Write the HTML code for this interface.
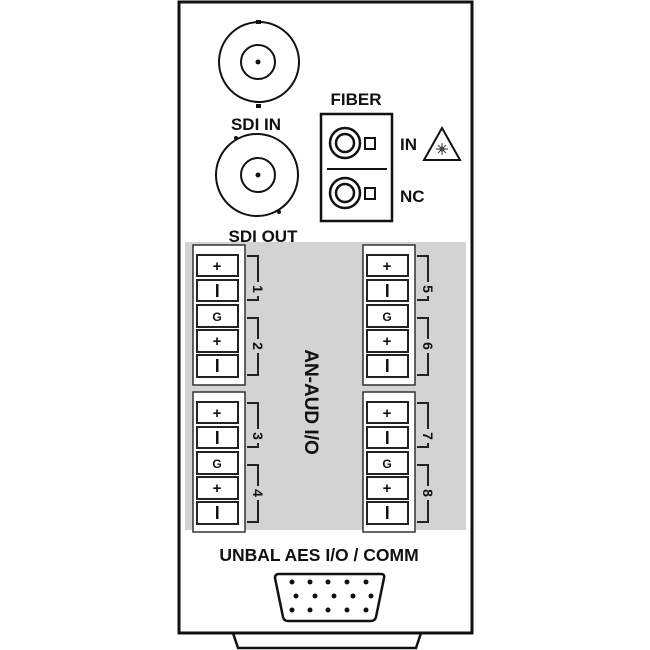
<!DOCTYPE html>
<html><head><style>body{margin:0;background:#fff}svg{display:block}</style></head><body>
<svg width="650" height="650" viewBox="0 0 650 650" font-family="Liberation Sans, sans-serif" font-weight="bold">
<rect width="650" height="650" fill="#fff"/>
<path d="M233 633 L238 648 L416 648 L421 633" fill="#fff" stroke="#111" stroke-width="2.5"/>
<rect x="179" y="2" width="293" height="631" fill="#fff" stroke="#111" stroke-width="3"/>
<rect x="185" y="242" width="281" height="288" fill="#d3d3d3"/>
<g fill="none" stroke="#111" stroke-width="2">
<circle cx="259" cy="62" r="40"/><circle cx="258" cy="62" r="17"/>
<circle cx="257" cy="175" r="41"/><circle cx="258" cy="175" r="17"/>
<rect x="321" y="114" width="71" height="107" stroke-width="2.5"/>
<line x1="327" y1="169" x2="387" y2="169"/>
<circle cx="345" cy="143" r="15" stroke-width="2.5"/><circle cx="345" cy="143" r="9" stroke-width="2.5"/>
<circle cx="345" cy="193" r="15" stroke-width="2.5"/><circle cx="345" cy="193" r="9" stroke-width="2.5"/>
<rect x="365" y="138" width="10" height="11"/><rect x="365" y="188" width="10" height="11"/>
<path d="M424 160 L442 128 L460 160 Z"/>
<path d="M436 149 H448 M442 143 V155 M438 145 L446 153 M446 145 L438 153" stroke="#555" stroke-width="1.2"/>
</g>
<g fill="#111"><circle cx="258" cy="62" r="2.5"/><circle cx="258" cy="175" r="2.5"/>
<rect x="256" y="20" width="5" height="4"/><rect x="256" y="104" width="5" height="4"/>
<circle cx="236" cy="138" r="2"/><circle cx="279" cy="212" r="2"/>
<circle cx="442" cy="149" r="2.5" fill="#444"/></g>
<g fill="#111" font-size="17">
<text x="256" y="130" text-anchor="middle">SDI IN</text>
<text x="263" y="242" text-anchor="middle">SDI OUT</text>
<text x="356" y="105" text-anchor="middle">FIBER</text>
<text x="400" y="150">IN</text>
<text x="400" y="202">NC</text>
<text x="319" y="561" text-anchor="middle" font-size="17.5">UNBAL AES I/O / COMM</text>
<text transform="translate(305,402) rotate(90)" text-anchor="middle" font-size="19">AN-AUD I/O</text>
</g>
<g id="blk">
<rect x="193" y="245" width="52" height="140" fill="#fff" stroke="#333" stroke-width="1.5"/>
<g fill="#fff" stroke="#222" stroke-width="2">
<rect x="197" y="255" width="41" height="21"/><rect x="197" y="280" width="41" height="21"/>
<rect x="197" y="305" width="41" height="22"/><rect x="197" y="330" width="41" height="22"/>
<rect x="197" y="355" width="41" height="22"/></g>
<g fill="#111" font-size="15" text-anchor="middle">
<text x="217" y="271">+</text><rect x="216" y="284" width="2.5" height="13"/>
<text x="217" y="321" font-size="12">G</text><text x="217" y="346">+</text>
<rect x="216" y="359" width="2.5" height="13"/></g>
<path d="M247 256 H258 V300 H247 M247 318 H258 V375 H247" fill="none" stroke="#222" stroke-width="2"/>
</g>
<use href="#blk" y="147"/>
<use href="#blk" x="170"/>
<use href="#blk" x="170" y="147"/>
<g font-size="14" fill="#111" text-anchor="middle">
<rect x="252" y="282" width="12" height="14" fill="#d3d3d3"/><text transform="translate(253,289) rotate(90)">1</text>
<rect x="252" y="339" width="12" height="14" fill="#d3d3d3"/><text transform="translate(253,346) rotate(90)">2</text>
<rect x="252" y="429" width="12" height="14" fill="#d3d3d3"/><text transform="translate(253,436) rotate(90)">3</text>
<rect x="252" y="486" width="12" height="14" fill="#d3d3d3"/><text transform="translate(253,493) rotate(90)">4</text>
<rect x="422" y="282" width="12" height="14" fill="#d3d3d3"/><text transform="translate(423,289) rotate(90)">5</text>
<rect x="422" y="339" width="12" height="14" fill="#d3d3d3"/><text transform="translate(423,346) rotate(90)">6</text>
<rect x="422" y="429" width="12" height="14" fill="#d3d3d3"/><text transform="translate(423,436) rotate(90)">7</text>
<rect x="422" y="486" width="12" height="14" fill="#d3d3d3"/><text transform="translate(423,493) rotate(90)">8</text>
</g>
<path d="M279 574 H381 Q385 574 384 578 L376 617 Q375 621 371 621 H288 Q284 621 283 617 L275 578 Q275 574 279 574 Z" fill="#fff" stroke="#111" stroke-width="2.5"/>
<g fill="#111">
<circle cx="292" cy="582" r="2.5"/><circle cx="310" cy="582" r="2.5"/><circle cx="328" cy="582" r="2.5"/><circle cx="347" cy="582" r="2.5"/><circle cx="366" cy="582" r="2.5"/>
<circle cx="296" cy="596" r="2.5"/><circle cx="315" cy="596" r="2.5"/><circle cx="334" cy="596" r="2.5"/><circle cx="353" cy="596" r="2.5"/><circle cx="371" cy="596" r="2.5"/>
<circle cx="292" cy="610" r="2.5"/><circle cx="310" cy="610" r="2.5"/><circle cx="328" cy="610" r="2.5"/><circle cx="347" cy="610" r="2.5"/><circle cx="366" cy="610" r="2.5"/>
</g>
</svg>
</body></html>
